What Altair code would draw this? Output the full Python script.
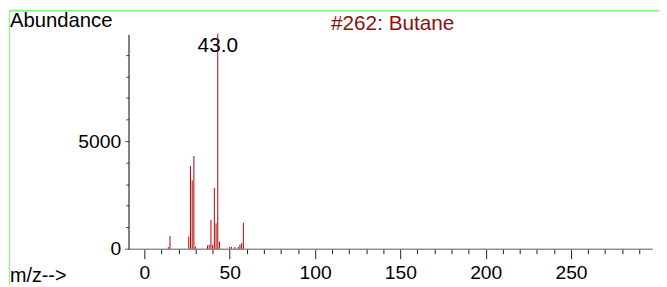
import altair as alt
import pandas as pd

# m/z values and abundances
mz = [14, 15, 26, 27, 28, 29, 30, 37, 38, 39, 40, 41, 42, 43, 44, 50, 51, 53, 55, 56, 57, 58]
abundance = [80, 600, 570, 3850, 3180, 4310, 100, 150, 190, 1340, 180, 2830, 1190, 9999, 335,
             90, 90, 80, 80, 200, 260, 1210]

x_minor_ticks = [10, 20, 30, 40, 60, 70, 80, 90, 110, 120, 130, 140, 160, 170, 180, 190,
                 210, 220, 230, 240, 260, 270, 280, 290]
x_major_ticks = [0, 50, 100, 150, 200, 250]
y_minor_ticks = [1000, 2000, 3000, 4000, 6000, 7000, 8000, 9000]
y_major_ticks = [0, 5000]

title_text = ["#262: Butane"]
y_title = ["Abundance"]
x_title = ["m/z-->"]
peak_mz = [43]
peak_abundance = [9999]
peak_label = ["43.0"]

FONT = "Liberation Sans"

df = pd.DataFrame({"mz": mz, "abundance": abundance})
peak_df = pd.DataFrame({"mz": peak_mz, "abundance": peak_abundance, "label": peak_label})

xscale = alt.Scale(domain=[-9.3, 297.5], nice=False, zero=False)
yscale = alt.Scale(domain=[0, 9960], nice=False)

bars = alt.Chart(df).mark_rule(color="#b00000", strokeWidth=1).encode(
    x=alt.X("mz:Q", scale=xscale,
            axis=alt.Axis(values=x_minor_ticks, tickSize=5, labels=False, grid=False, title=None,
                          orient="bottom", domainColor="#888888", tickColor="#222222")),
    y=alt.Y("abundance:Q", scale=yscale,
            axis=alt.Axis(values=y_minor_ticks, tickSize=3, labels=False, grid=False, title=None,
                          orient="left", domainColor="#000000", tickColor="#555555")),
    y2=alt.datum(0),
)

peak_text = alt.Chart(peak_df).mark_text(
    font=FONT, fontSize=21, color="#000000", align="center", baseline="alphabetic", dy=19
).encode(
    x=alt.X("mz:Q", scale=xscale,
            axis=alt.Axis(values=x_major_ticks, tickSize=10, labelFontSize=19.5, labelFont=FONT,
                          labelColor="#000000", labelPadding=5, grid=False, title=None,
                          orient="bottom", domainColor="#888888", tickColor="#222222")),
    y=alt.Y("abundance:Q", scale=yscale,
            axis=alt.Axis(values=y_major_ticks, format="d", tickSize=4, labelFontSize=19.5,
                          labelFont=FONT, labelColor="#000000", labelPadding=4, grid=False,
                          title=None, orient="left", domain=False, tickColor="#555555")),
    text="label:N",
)

def label(txt, x, y, size, color="#000000"):
    return alt.Chart(pd.DataFrame({"t": txt})).mark_text(
        font=FONT, fontSize=size, color=color, align="left", baseline="alphabetic"
    ).encode(x=alt.value(x), y=alt.value(y), text="t:N")

title = label(title_text, 205, -4, 21, color="#8b1010")
ytitle = label(y_title, -120, -7, 20.5)
xtitle = label(x_title, -120, 251, 20)

frame = pd.DataFrame({"a": [0]})
green_h = alt.Chart(frame).mark_rect(color="#80ff80", strokeWidth=0).encode(
    x=alt.value(-121), x2=alt.value(537), y=alt.value(-25), y2=alt.value(-23)
)
green_v = alt.Chart(frame).mark_rect(color="#80ff80", strokeWidth=0).encode(
    x=alt.value(-121), x2=alt.value(-119.8), y=alt.value(-25), y2=alt.value(254)
)

chart = alt.layer(green_h, green_v, peak_text, bars, title, ytitle, xtitle).resolve_axis(
    x="independent", y="independent"
).properties(
    width=530, height=217,
    autosize=alt.AutoSizeParams(type="none"),
    padding={"left": 122, "top": 25, "right": 7, "bottom": 37},
).configure_view(stroke=None)

chart.save("out.html", embed_options={"renderer": "svg", "actions": False})
